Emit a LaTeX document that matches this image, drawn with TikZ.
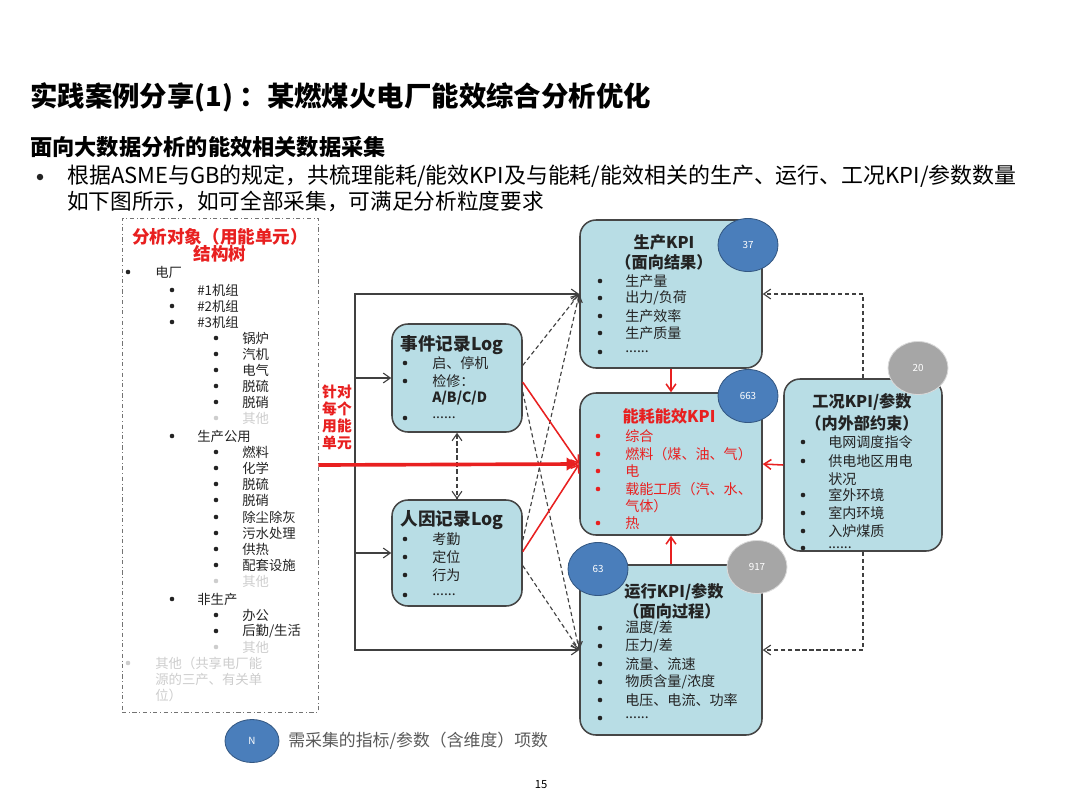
\documentclass[tikz,border=0pt]{standalone}
\usepackage{fontspec}
\setmainfont{Noto Sans CJK SC}
\usetikzlibrary{arrows.meta,shapes.geometric}

\newdimen\px \px=0.025cm
\newcommand{\moredots}{......}

\definecolor{boxfill}{RGB}{184,221,229}
\definecolor{boxline}{RGB}{70,70,70}
\definecolor{dotblue}{RGB}{74,126,187}
\definecolor{dotgray}{RGB}{166,166,166}
\definecolor{keyred}{RGB}{232,32,32}
\definecolor{faint}{RGB}{205,205,205}
\definecolor{inktext}{RGB}{35,35,35}

\tikzset{
  kbox/.style={draw=boxline, line width=1.1pt, fill=boxfill, rounded corners=16\px},
  bdot/.style={ellipse, draw=dotblue!70!black, line width=0.6pt, fill=dotblue,
    text=white, minimum width=60\px, minimum height=53\px, inner sep=0pt,
    font=\fontsize{7}{8}\selectfont},
  gdot/.style={bdot, draw=black!15, fill=dotgray},
  item/.style={anchor=west, inner sep=0pt, text=inktext, font=\fontsize{10}{12}\selectfont},
  bul/.style={circle, fill=inktext, inner sep=0pt, minimum size=4.6\px},
  titem/.style={item, font=\fontsize{9.5}{11}\selectfont},
  ktitle/.style={inner sep=0pt, text=inktext, font=\bfseries\fontsize{11.5}{13}\selectfont},
  ltitle/.style={ktitle, font=\bfseries\fontsize{12.5}{14}\selectfont},
  arr/.style={-{Straight Barb[length=5pt,width=7pt]}, black!75, line width=0.8pt},
  darr/.style={arr, dash pattern=on 3pt off 2pt},
  rarr/.style={-{Straight Barb[length=5pt,width=7pt]}, keyred, line width=1.1pt}
}

\begin{document}
\begin{tikzpicture}[x=\px, y=-\px]

    \useasboundingbox (0,0) rectangle (1080,810);

    % Heading
    \node[anchor=west, inner sep=0pt, font=\bfseries\fontsize{19.5}{22}\selectfont] (title) at (30,97)
        {实践案例分享(1) ：某燃煤火电厂能效综合分析优化};
    \node[anchor=west, inner sep=0pt, font=\bfseries\fontsize{15.8}{18}\selectfont] (subtitle) at (30,147)
        {面向大数据分析的能效相关数据采集};
    \node[bul, minimum size=6.5\px] (introdot) at (40,177) {};
    \node[anchor=west, inner sep=0pt, font=\fontsize{15.6}{18}\selectfont] (intro1) at (67,176)
        {根据ASME与GB的规定，共梳理能耗/能效KPI及与能耗/能效相关的生产、运行、工况KPI/参数数量};
    \node[anchor=west, inner sep=0pt, font=\fontsize{15.4}{18}\selectfont] (intro2) at (67,201)
        {如下图所示，如可全部采集，可满足分析粒度要求};

    % Structure tree
    \node[draw=black!55, dash dot, line width=0.6pt, minimum width=196\px, minimum height=494\px] (tree) at (220,465) {};
    \node[inner sep=0pt, text=keyred, font=\bfseries\fontsize{12.5}{14}\selectfont] (treehead) at (220,237) {分析对象（用能单元）};
    \node[inner sep=0pt, text=keyred, font=\bfseries\fontsize{12.5}{14}\selectfont] (treehead2) at (220,254) {结构树};
    \foreach \bx/\tx/\y/\t/\c [count=\i] in {
        128/155/272/电厂/inktext,
        172/197/290/\#1机组/inktext, 172/197/306/\#2机组/inktext, 172/197/322/\#3机组/inktext,
        216/242/338/锅炉/inktext, 216/242/354/汽机/inktext, 216/242/370/电气/inktext,
        216/242/386/脱硫/inktext, 216/242/402/脱硝/inktext, 216/242/418/其他/faint,
        172/197/436/生产公用/inktext,
        216/242/452/燃料/inktext, 216/242/468/化学/inktext, 216/242/484/脱硫/inktext,
        216/242/500/脱硝/inktext, 216/242/517/除尘除灰/inktext, 216/242/533/污水处理/inktext,
        216/242/549/供热/inktext, 216/242/565/配套设施/inktext, 216/242/581/其他/faint,
        172/197/599/非生产/inktext,
        216/242/615/办公/inktext, 216/242/631/{后勤/生活}/inktext, 216/242/647/其他/faint,
        128/155/663/其他（共享电厂能/faint}
    {
        \node[bul, fill=\c] (tb\i) at (\bx,\y) {};
        \node[titem, text=\c] (tt\i) at (\tx,\y) {\t};
    }
    \node[titem, text=faint] (tt26) at (155,679) {源的三产、有关单};
    \node[titem, text=faint] (tt27) at (155,695) {位）};

    % Red label
    \foreach \y/\t [count=\i] in {392/针对, 409/每个, 426/用能, 443/单元}
        \node[inner sep=0pt, text=keyred, font=\bfseries\fontsize{10.5}{12}\selectfont] (lab\i) at (337,\y) {\t};

    % Boxes
    \node[kbox, minimum width=130\px, minimum height=108\px] (evlog) at (457,378) {};
    \node[kbox, minimum width=130\px, minimum height=106\px] (hulog) at (457,553) {};
    \node[kbox, minimum width=182\px, minimum height=148\px] (prod) at (671,294) {};
    \node[kbox, minimum width=182\px, minimum height=142\px] (enkpi) at (671,464) {};
    \node[kbox, minimum width=182\px, minimum height=170\px] (run) at (671,650) {};
    \node[kbox, minimum width=158\px, minimum height=172\px] (wk) at (863,465) {};

    % Trunk and feeds
    \coordinate (tr) at (355,464);
    \draw[arr] (tr) |- (prod.west);
    \draw[arr] (tr) |- (run.west);
    \draw[arr] (tr |- evlog.west) -- (evlog.west);
    \draw[arr] (tr |- hulog.west) -- (hulog.west);
    \draw[darr, {Straight Barb[length=5pt,width=7pt]}-{Straight Barb[length=5pt,width=7pt]}] (evlog.south) -- (hulog.north);

    % Dashed links from the logs
    \draw[darr] ([yshift=9pt]evlog.east) -- (prod.west);
    \draw[darr] ([yshift=-10pt]evlog.east) -- (run.west);
    \draw[darr] ([yshift=9pt]hulog.east) -- (prod.west);
    \draw[darr] ([yshift=-9pt]hulog.east) -- (run.west);

    % Red links
    \draw[keyred, line width=2.6pt, -{Latex[length=9pt,width=10pt]}] (tree.east) -- (enkpi.west);
    \draw[rarr] ([yshift=-3pt]evlog.east) -- (enkpi.west);
    \draw[rarr] ([yshift=1pt]hulog.east) -- (enkpi.west);
    \draw[rarr] (prod.south) -- (enkpi.north);
    \draw[rarr] (run.north) -- (enkpi.south);
    \draw[rarr] (wk.west) -- (enkpi.east);

    % Constraint feeds
    \draw[darr] (wk.north) |- (prod.east);
    \draw[darr] (wk.south) |- (run.east);

    % Event log
    \node[ltitle] (evt) at (452,345) {事件记录Log};
    \foreach \y/\t [count=\i] in {363/启、停机, 381/检修：, 418/\moredots}
    {
        \node[bul] (evb\i) at (405,\y) {};
        \node[item] (evi\i) at (432,\y) {\t};
    }
    \node[item, font=\bfseries\fontsize{10}{12}\selectfont] (evi4) at (432,398) {A/B/C/D};

    % Human log
    \node[ltitle] (hut) at (452,520) {人因记录Log};
    \foreach \y/\t [count=\i] in {539/考勤, 557/定位, 575/行为, 595/\moredots}
    {
        \node[bul] (hub\i) at (405,\y) {};
        \node[item] (hui\i) at (432,\y) {\t};
    }

    % Production KPI
    \node[ktitle] (prt) at (664,242) {生产KPI};
    \node[ktitle] (prt2) at (664,262) {（面向结果）};
    \foreach \y/\t [count=\i] in {281/生产量, 298/{出力/负荷}, 316/生产效率, 333/生产质量, 352/\moredots}
    {
        \node[bul] (prb\i) at (600,\y) {};
        \node[item] (pri\i) at (625,\y) {\t};
    }

    % Energy KPI
    \node[ktitle, text=keyred] (ent) at (669,416) {能耗能效KPI};
    \foreach \y/\t [count=\i] in {436/综合, 454/燃料（煤、油、气）, 471/电, 489/载能工质（汽、水、, 523/热}
    {
        \node[bul, fill=keyred] (enb\i) at (598,\y) {};
        \node[item, text=keyred] (eni\i) at (625,\y) {\t};
    }
    \node[item, text=keyred] (eni6) at (625,506) {气体）};

    % Running KPI
    \node[ktitle] (rut) at (674,592) {运行KPI/参数};
    \node[ktitle] (rut2) at (672,611) {（面向过程）};
    \foreach \y/\t [count=\i] in {628/{温度/差}, 646/{压力/差}, 664/流量、流速, 682/{物质含量/浓度}, 700/电压、电流、功率, 718/\moredots}
    {
        \node[bul] (rub\i) at (600,\y) {};
        \node[item] (rui\i) at (625,\y) {\t};
    }

    % Working conditions
    \node[ktitle] (wkt) at (862,402) {工况KPI/参数};
    \node[ktitle] (wkt2) at (862,423) {（内外部约束）};
    \foreach \y/\t [count=\i] in {442/电网调度指令, 461/供电地区用电, 495/室外环境, 513/室内环境, 531/入炉煤质, 548/\moredots}
    {
        \node[bul] (wkb\i) at (803,\y) {};
        \node[item] (wki\i) at (828,\y) {\t};
    }
    \node[item] (wki7) at (828,479) {状况};

    % Counts
    \node[bdot] (n37) at (748,245) {37};
    \node[bdot] (n663) at (748,396) {663};
    \node[bdot] (n63) at (598,569) {63};
    \node[gdot] (n917) at (757,567) {917};
    \node[gdot] (n20) at (918,368) {20};

    % Legend
    \node[bdot, minimum width=54\px, minimum height=43\px] (key) at (252,741) {N};
    \node[anchor=west, inner sep=0pt, text=black!65, font=\fontsize{12}{14}\selectfont] (keytext) at (288,741)
        {需采集的指标/参数（含维度）项数};

    % Page number
    \node[inner sep=0pt, font=\fontsize{8}{10}\selectfont] (page) at (541,785) {15};

\end{tikzpicture}
\end{document}
